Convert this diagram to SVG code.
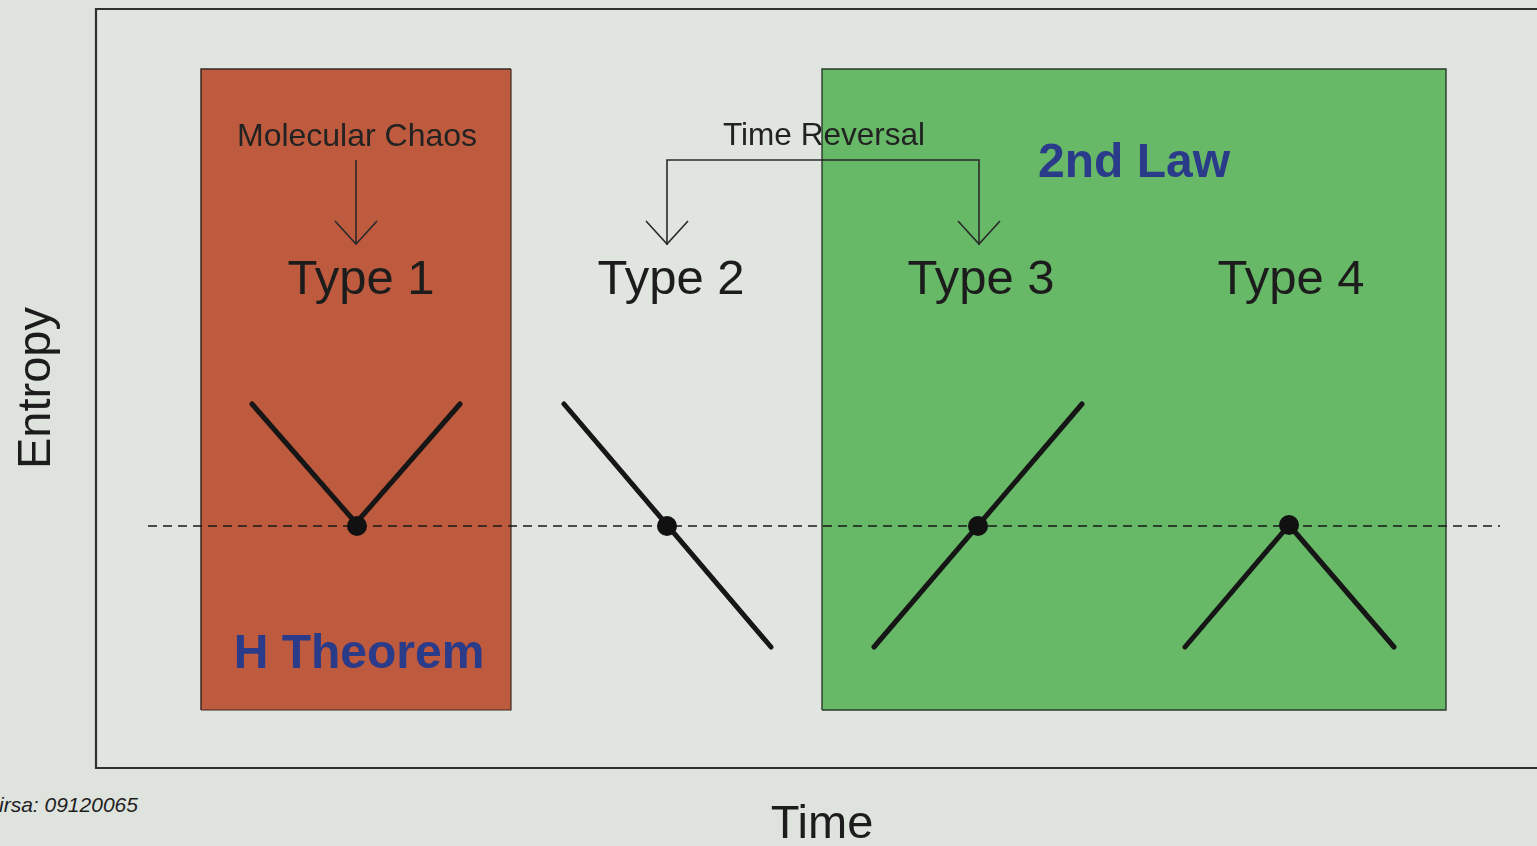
<svg xmlns="http://www.w3.org/2000/svg" width="1537" height="846" viewBox="0 0 1537 846">
  <defs>
    <style>
      .sans { font-family: "Liberation Sans", Arial, sans-serif; }
      .type { font-size: 49px; fill: #1e1e1e; text-anchor: middle; }
      .note { font-size: 32px; fill: #222; text-anchor: middle; }
      .law { font-size: 48px; font-weight: bold; fill: #2b3a8a; }
      .axis { font-size: 47px; fill: #1e1e1e; text-anchor: middle; }
      .curve { stroke: #141414; stroke-width: 5; stroke-linecap: round; stroke-linejoin: round; fill: none; }
      .dot { fill: #111; }
      .arrow { stroke: #2a2a2a; stroke-width: 1.6; fill: none; }
      .frame { stroke: #2e322e; stroke-width: 2.2; fill: none; }
    </style>
    <filter id="soft" x="-5%" y="-5%" width="110%" height="110%">
      <feGaussianBlur stdDeviation="0.7"/>
    </filter>
  </defs>

  <!-- page background -->
  <rect x="0" y="0" width="1537" height="846" fill="#dfe3de"/>

  <!-- plot frame (open on the right) -->
  <g id="frame">
    <rect x="96" y="9" width="1460" height="759" fill="#e1e5e0"/>
    <path class="frame" d="M1537 9 H96 V768 H1537"/>
  </g>

  <!-- shaded regions -->
  <g id="region-h-theorem">
    <rect x="201" y="69" width="310" height="641" fill="#be5a3d"/>
    <path d="M201 710 V69 H511" stroke="#3a2a22" stroke-width="1.5" fill="none"/>
    <path d="M201 710 H511 V69" stroke="#3a2a22" stroke-width="1.2" fill="none"/>
    <text class="sans law" x="359" y="668" text-anchor="middle" filter="url(#soft)">H Theorem</text>
  </g>
  <g id="region-2nd-law">
    <rect x="822" y="69" width="624" height="641" fill="#67b867"/>
    <path d="M822 710 V69 H1446 V710 H822" stroke="#2a3a2a" stroke-width="1.4" fill="none"/>
    <text class="sans law" x="1134" y="177" text-anchor="middle" filter="url(#soft)">2nd Law</text>
  </g>

  <!-- reference level -->
  <g id="baseline">
    <line x1="148" y1="526" x2="1500" y2="526" stroke="#1a1a1a" stroke-width="1.4" stroke-dasharray="9 6"/>
  </g>

  <!-- entropy curves -->
  <g id="type1">
    <text class="sans type" x="361" y="294" filter="url(#soft)">Type 1</text>
    <polyline class="curve" points="252,404 356,523 460,404" filter="url(#soft)"/>
    <circle class="dot" cx="357" cy="526" r="10"/>
  </g>
  <g id="type2">
    <text class="sans type" x="671" y="294" filter="url(#soft)">Type 2</text>
    <line class="curve" x1="564" y1="404" x2="771" y2="647" filter="url(#soft)"/>
    <circle class="dot" cx="667" cy="526" r="10"/>
  </g>
  <g id="type3">
    <text class="sans type" x="981" y="294" filter="url(#soft)">Type 3</text>
    <line class="curve" x1="874" y1="647" x2="1082" y2="404" filter="url(#soft)"/>
    <circle class="dot" cx="978" cy="526" r="10"/>
  </g>
  <g id="type4">
    <text class="sans type" x="1291" y="294" filter="url(#soft)">Type 4</text>
    <polyline class="curve" points="1185,647 1289,525 1394,647" filter="url(#soft)"/>
    <circle class="dot" cx="1289" cy="525" r="10"/>
  </g>

  <!-- annotations -->
  <g id="molecular-chaos">
    <text class="sans note" x="357" y="146" textLength="240" lengthAdjust="spacingAndGlyphs" filter="url(#soft)">Molecular Chaos</text>
  </g>
  <g id="time-reversal">
    <text class="sans note" x="824" y="145" textLength="202" lengthAdjust="spacingAndGlyphs" filter="url(#soft)">Time Reversal</text>
  </g>

  <g id="connectors">
    <line class="arrow" x1="356" y1="160" x2="356" y2="244"/>
    <polyline class="arrow" points="335,221 356,244 377,221"/>
    <polyline class="arrow" points="667,245 667,160 979,160 979,245"/>
    <polyline class="arrow" points="646,221 667,244 688,221"/>
    <polyline class="arrow" points="958,221 979,244 1000,221"/>
  </g>

  <!-- axis labels -->
  <g id="axis-labels">
    <text class="sans axis" x="0" y="0" transform="translate(50 388) rotate(-90)" filter="url(#soft)">Entropy</text>
    <text class="sans axis" x="822" y="838" filter="url(#soft)">Time</text>
    <text class="sans" x="-1" y="812" font-size="21" font-style="italic" fill="#1e1e1e">irsa: 09120065</text>
  </g>
</svg>
